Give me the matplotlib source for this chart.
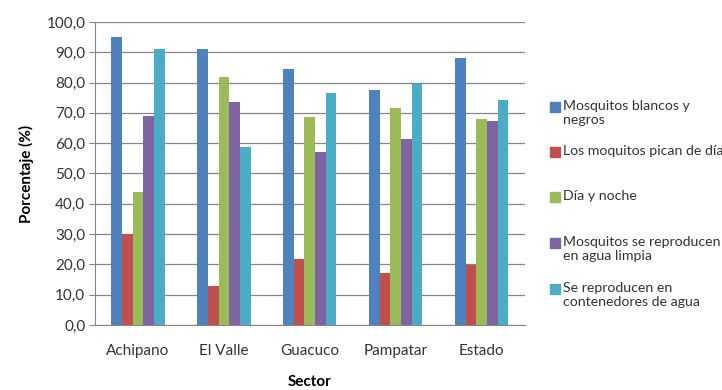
import numpy as np
import matplotlib
matplotlib.use('Agg')
import matplotlib.pyplot as plt
from matplotlib.patches import Rectangle

plt.rcParams['font.family'] = ['Lato', 'DejaVu Sans']

# Survey results per sector (%)
sectors = ['Achipano', 'El Valle', 'Guacuco', 'Pampatar', 'Estado']
series_names = [
    'Mosquitos blancos y\nnegros',
    'Los moquitos pican de día',
    'Día y noche',
    'Mosquitos se reproducen\nen agua limpia',
    'Se reproducen en\ncontenedores de agua',
]
blancos_negros = [95.0, 91.2, 84.4, 77.4, 88.1]
pican_dia = [30.0, 13.0, 21.8, 17.3, 19.7]
dia_noche = [44.0, 81.7, 68.7, 71.6, 68.0]
agua_limpia = [69.1, 73.6, 57.0, 61.5, 67.4]
contenedores = [91.0, 58.7, 76.6, 79.6, 74.3]
colors = ['#4F81BD', '#C0504D', '#9BBB59', '#8064A2', '#4BACC6']

series = [blancos_negros, pican_dia, dia_noche, agua_limpia, contenedores]

fig = plt.figure(figsize=(7.22, 3.90), dpi=100)
ax = fig.add_axes([0.1316, 0.1667, 0.595, 0.777])

x = np.arange(len(sectors))
n = len(series)
group_w = 0.62
bw = group_w / n
for i, (vals, c) in enumerate(zip(series, colors)):
    ax.bar(x - group_w / 2 + bw * (i + 0.5), vals, bw, color=c, zorder=3,
           linewidth=0)

ax.set_xlim(-0.5, len(sectors) - 0.5)
ax.set_ylim(0, 100)
ax.set_yticks(np.arange(0, 101, 10))
ax.set_yticklabels([f'{v:.1f}'.replace('.', ',') for v in range(0, 101, 10)],
                   fontsize=11, color='#333333')
ax.set_xticks(x)
ax.set_xticklabels(sectors, fontsize=11, color='#333333')
ax.tick_params(axis='x', length=0, pad=14)
ax.tick_params(axis='y', length=4, color='#868686', pad=3)
ax.yaxis.grid(True, color='#868686', linewidth=0.9, zorder=0)
for s in ['top', 'right']:
    ax.spines[s].set_visible(False)
for s in ['left', 'bottom']:
    ax.spines[s].set_color('#868686')

ax.set_ylabel('Porcentaje (%)', fontsize=11, fontweight='bold', labelpad=9)
ax.set_xlabel('Sector', fontsize=11, fontweight='bold', labelpad=12)

# Legend drawn entry by entry at evenly spaced tops
tops = [101, 146, 191, 237, 283]
W, H = 722, 390
for name, c, top in zip(series_names, colors, tops):
    fig.patches.append(Rectangle((550 / W, 1 - (top + 11) / H), 10 / W, 10 / H,
                                 transform=fig.transFigure, color=c))
    fig.text(563 / W, 1 - (top - 1) / H, name, fontsize=10.2, va='top',
             ha='left', color='#333333', linespacing=1.25)

fig.savefig('out.png', dpi=100)
